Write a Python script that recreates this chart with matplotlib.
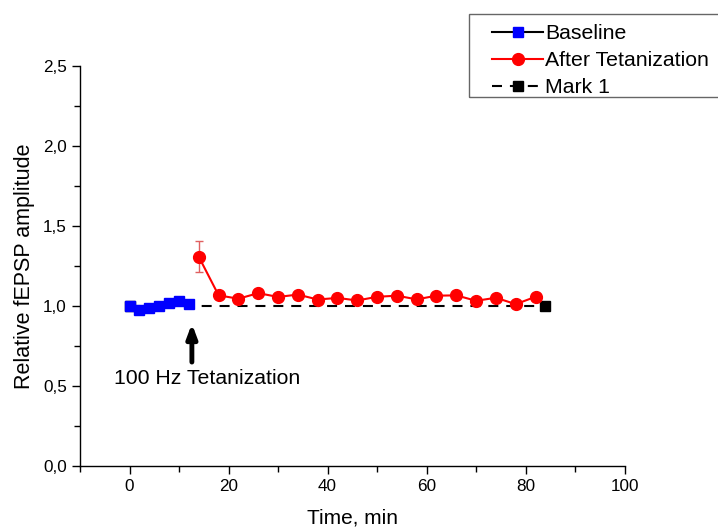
import matplotlib.pyplot as plt
from matplotlib.lines import Line2D
from matplotlib.patches import Rectangle
from matplotlib.ticker import MultipleLocator

plt.rcParams['font.family'] = ['Liberation Sans', 'DejaVu Sans']

# data
baseline_t = [0, 2, 4, 6, 8, 10, 12]
baseline_v = [1.0, 0.975, 0.988, 1.0, 1.02, 1.03, 1.012]

after_t = [14, 18, 22, 26, 30, 34, 38, 42, 46, 50, 54, 58, 62, 66, 70, 74, 78, 82]
after_v = [1.308, 1.067, 1.046, 1.081, 1.057, 1.072, 1.041, 1.051, 1.035, 1.058,
           1.065, 1.042, 1.065, 1.067, 1.033, 1.052, 1.012, 1.058]
after_err = [0.098, 0.015, 0.012, 0.012, 0.012, 0.012, 0.012, 0.012, 0.012, 0.012,
             0.012, 0.012, 0.012, 0.012, 0.012, 0.012, 0.012, 0.012]

mark_t = [0, 84]
mark_v = [1.0, 1.0]

xticks = [0, 20, 40, 60, 80, 100]
yticks = [0.0, 0.5, 1.0, 1.5, 2.0, 2.5]
ytick_labels = ["0,0", "0,5", "1,0", "1,5", "2,0", "2,5"]

dash = (0, (4.8, 3.8))
W, H = 718, 529

fig = plt.figure(figsize=(7.18, 5.29), dpi=100)
ax = fig.add_axes([0.1114, 0.119, 0.7586, 0.756])

ax.errorbar(after_t, after_v, yerr=after_err, color="red", ecolor="#e06060",
            elinewidth=1, capsize=3, marker="o", markersize=8.5, lw=1.5, zorder=3)
ax.plot(baseline_t, baseline_v, color="black", lw=1.5, marker="s", markersize=6.5,
        mfc="blue", mec="blue", zorder=3)
ax.plot(mark_t, mark_v, color="black", linestyle=dash, lw=1.5, marker="s",
        markersize=6.5, zorder=2)

ax.annotate("", xy=(12.6, 0.89), xytext=(12.6, 0.65),
            arrowprops=dict(arrowstyle="-|>,head_length=0.8,head_width=0.3",
                            color="black", lw=3.5, shrinkA=0, shrinkB=0))
ax.text(15.6, 0.545, "100 Hz Tetanization", fontsize=15.3, ha="center", va="center")

ax.set_xlim(-10, 100)
ax.set_ylim(0, 2.5)
ax.set_xticks(xticks)
ax.xaxis.set_minor_locator(MultipleLocator(10))
ax.set_yticks(yticks)
ax.set_yticklabels(ytick_labels)
ax.yaxis.set_minor_locator(MultipleLocator(0.25))
ax.tick_params(which="major", direction="out", length=6, width=1, labelsize=12.3)
ax.tick_params(which="minor", direction="out", length=4, width=1)
for s in ["top", "right"]:
    ax.spines[s].set_visible(False)
for s in ["left", "bottom"]:
    ax.spines[s].set_linewidth(1)

ax.set_xlabel("Time, min", fontsize=15, labelpad=10)
ax.set_ylabel("Relative fEPSP amplitude", fontsize=15.5, labelpad=6)

# legend frame drawn by hand so it runs off the right edge like the reference
fig.patches.append(Rectangle((469 / W, 1 - 97 / H), 260 / W, 83 / H,
                             transform=fig.transFigure, fill=False,
                             edgecolor="#666666", lw=1))
handles = [
    Line2D([], [], color="black", lw=1.5, marker="s", markersize=6.5, mfc="blue", mec="blue"),
    Line2D([], [], color="red", lw=1.5, marker="o", markersize=8.5),
    Line2D([], [], color="black", lw=1.5, linestyle=dash, marker="s", markersize=6.5),
]
labels = ["Baseline", "After Tetanization", "Mark 1"]
fig.legend(handles, labels, loc="upper left",
           bbox_to_anchor=(492 / W, 1 - 24 / H), fontsize=15.3,
           frameon=False, handlelength=2.4, borderpad=0, labelspacing=0.38,
           handletextpad=0.1, borderaxespad=0)

fig.savefig("out.png", dpi=100)
